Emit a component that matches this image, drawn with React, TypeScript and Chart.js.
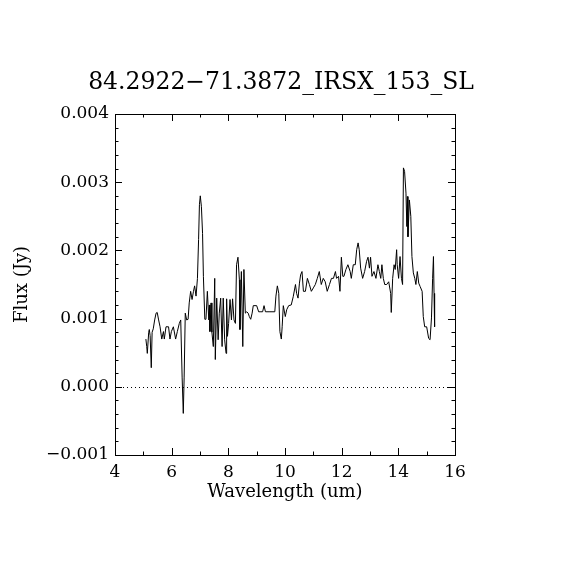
import React, { useEffect, useRef } from "react";
import { Chart, registerables } from "chart.js";

Chart.register(...registerables);

const TITLE = "84.2922\u221271.3872_IRSX_153_SL";
const X_LABEL = "Wavelength (um)";
const Y_LABEL = "Flux (Jy)";

const X_TICKS = [4, 6, 8, 10, 12, 14, 16];
const X_MINOR_TICKS = [5, 7, 9, 11, 13, 15];
const Y_TICKS = [-0.001, 0, 0.001, 0.002, 0.003, 0.004];
const Y_MINOR_TICKS = [
  -0.0008, -0.0006, -0.0004, -0.0002, 0.0002, 0.0004, 0.0006, 0.0008,
  0.0012, 0.0014, 0.0016, 0.0018, 0.0022, 0.0024, 0.0026, 0.0028,
  0.0032, 0.0034, 0.0036, 0.0038,
];

const WAVELENGTH = [
  5.09, 5.12, 5.14, 5.19, 5.21, 5.24, 5.28, 5.31, 5.35, 5.40, 5.45, 5.49,
  5.54, 5.59, 5.65, 5.71, 5.74, 5.80, 5.89, 5.94, 5.99, 6.06, 6.14, 6.20,
  6.27, 6.32, 6.37, 6.41, 6.44, 6.48, 6.53, 6.58, 6.62, 6.67, 6.72, 6.77,
  6.81, 6.86, 6.91, 6.95, 6.98, 7.01, 7.05, 7.09, 7.12, 7.17, 7.21, 7.26,
  7.31, 7.33, 7.35, 7.39, 7.42, 7.47, 7.52, 7.54, 7.59, 7.64, 7.68, 7.73,
  7.78, 7.82, 7.87, 7.92, 7.94, 7.97, 8.01, 8.06, 8.11, 8.15, 8.20, 8.25,
  8.29, 8.34, 8.39, 8.41, 8.46, 8.51, 8.55, 8.60, 8.65, 8.70, 8.74, 8.79,
  8.84, 8.88, 9.00, 9.07, 9.12, 9.21, 9.26, 9.31, 9.47, 9.64, 9.68, 9.73,
  9.78, 9.82, 9.87, 9.90, 9.94, 10.01, 10.06, 10.13,
  10.22, 10.29, 10.37, 10.41, 10.46, 10.51, 10.55, 10.60, 10.65, 10.72,
  10.79, 10.86, 10.93, 11.00, 11.07, 11.14, 11.21, 11.28, 11.35, 11.42,
  11.49, 11.57, 11.64, 11.71, 11.78, 11.82, 11.89, 11.94, 11.99, 12.04,
  12.08, 12.15, 12.22, 12.30, 12.34, 12.41, 12.48, 12.53, 12.58, 12.62,
  12.67, 12.74, 12.81, 12.88, 12.93, 12.98, 13.02, 13.07, 13.14, 13.21,
  13.28, 13.33, 13.38, 13.42, 13.47, 13.52, 13.59, 13.66, 13.73, 13.75,
  13.80, 13.85, 13.89, 13.94, 13.96, 14.01, 14.06, 14.11, 14.15, 14.18,
  14.22, 14.27, 14.30, 14.32, 14.34, 14.39, 14.44, 14.48, 14.53, 14.58,
  14.62, 14.67, 14.72, 14.77, 14.84, 14.88, 14.93, 15.00, 15.07, 15.12,
  15.17, 15.21, 15.24, 15.26, 15.28,
];

const FLUX = [
  0.00070, 0.00059, 0.00049, 0.00080, 0.00084, 0.00075, 0.00028, 0.00080,
  0.00085, 0.00098, 0.00108, 0.00109, 0.00098, 0.00088, 0.00070, 0.00081,
  0.00070, 0.00088, 0.00088, 0.00070, 0.00081, 0.00088, 0.00070, 0.00081,
  0.00093, 0.00098, 0.00013, -0.00039, 0.00013, 0.00108, 0.00098, 0.00099,
  0.00123, 0.00140, 0.00128, 0.00140, 0.00148, 0.00133, 0.00159, 0.00216,
  0.00267, 0.00280, 0.00264, 0.00225, 0.00162, 0.00099, 0.00099, 0.00140,
  0.00098, 0.00120, 0.00081, 0.00123, 0.00080, 0.00059, 0.00159, 0.00040,
  0.00130, 0.00069, 0.00108, 0.00130, 0.00059, 0.00130, 0.00069, 0.00049,
  0.00129, 0.00074, 0.00093, 0.00128, 0.00098, 0.00129, 0.00098, 0.00093,
  0.00179, 0.00190, 0.00157, 0.00084, 0.00169, 0.00059, 0.00172, 0.00108,
  0.00110, 0.00108, 0.00103, 0.00099, 0.00108, 0.00119, 0.00119, 0.00110,
  0.00110, 0.00110, 0.00119, 0.00110, 0.00110, 0.00110, 0.00133, 0.00148,
  0.00137, 0.00081, 0.00070, 0.00088, 0.00119, 0.00103, 0.00113, 0.00119,
  0.00120, 0.00132, 0.00150, 0.00137, 0.00130, 0.00152, 0.00164, 0.00169,
  0.00140, 0.00140, 0.00159, 0.00150, 0.00140, 0.00145, 0.00150, 0.00159,
  0.00169, 0.00150, 0.00159, 0.00154, 0.00140, 0.00150, 0.00159, 0.00159,
  0.00169, 0.00159, 0.00162, 0.00140, 0.00190, 0.00162, 0.00162, 0.00172,
  0.00179, 0.00169, 0.00159, 0.00179, 0.00179, 0.00201, 0.00211, 0.00201,
  0.00174, 0.00159, 0.00169, 0.00184, 0.00190, 0.00174, 0.00190, 0.00162,
  0.00169, 0.00159, 0.00179, 0.00169, 0.00159, 0.00179, 0.00159, 0.00150,
  0.00150, 0.00154, 0.00137, 0.00109, 0.00159, 0.00179, 0.00172, 0.00201,
  0.00179, 0.00159, 0.00191, 0.00159, 0.00150, 0.00321, 0.00316, 0.00284,
  0.00235, 0.00279, 0.00220, 0.00274, 0.00250, 0.00191, 0.00167, 0.00159,
  0.00150, 0.00169, 0.00152, 0.00147, 0.00140, 0.00103, 0.00088, 0.00088,
  0.00071, 0.00069, 0.00101, 0.00159, 0.00191, 0.00137, 0.00088,
];

const FONT = "'DejaVu Serif', 'Liberation Serif', serif";

const idlFrame = {
  id: "idlFrame",
  beforeDatasetsDraw(chart: any) {
    const { ctx, chartArea, scales } = chart;
    const y0 = Math.round(scales.y.getPixelForValue(0)) + 0.5;
    ctx.save();
    ctx.strokeStyle = "#000";
    ctx.lineWidth = 1;
    ctx.setLineDash([1, 3]);
    ctx.beginPath();
    ctx.moveTo(chartArea.left, y0);
    ctx.lineTo(chartArea.right, y0);
    ctx.stroke();
    ctx.restore();
  },
  afterDraw(chart: any) {
    const { ctx, chartArea, scales } = chart;
    const { left, right, top, bottom } = chartArea;
    const xs = scales.x;
    const ys = scales.y;
    ctx.save();
    ctx.strokeStyle = "#000";
    ctx.lineWidth = 1;
    ctx.setLineDash([]);
    ctx.strokeRect(left + 0.5, top + 0.5, right - left, bottom - top);
    const major = 7;
    const minor = 3.5;
    ctx.beginPath();
    const xTick = (v: number, len: number) => {
      const px = Math.round(xs.getPixelForValue(v)) + 0.5;
      ctx.moveTo(px, bottom);
      ctx.lineTo(px, bottom - len);
      ctx.moveTo(px, top);
      ctx.lineTo(px, top + len);
    };
    const yTick = (v: number, len: number) => {
      const py = Math.round(ys.getPixelForValue(v)) + 0.5;
      ctx.moveTo(left, py);
      ctx.lineTo(left + len, py);
      ctx.moveTo(right, py);
      ctx.lineTo(right - len, py);
    };
    X_TICKS.forEach((v) => xTick(v, major));
    X_MINOR_TICKS.forEach((v) => xTick(v, minor));
    Y_TICKS.forEach((v) => yTick(v, major));
    Y_MINOR_TICKS.forEach((v) => yTick(v, minor));
    ctx.stroke();

    ctx.fillStyle = "#000";
    ctx.textAlign = "center";
    ctx.textBaseline = "middle";
    ctx.font = `23.5px ${FONT}`;
    ctx.fillText(TITLE, (left + right) / 2 - 4, 83);
    ctx.font = `18px ${FONT}`;
    ctx.fillText(X_LABEL, (left + right) / 2, 492);
    ctx.save();
    ctx.translate(22, (top + bottom) / 2);
    ctx.rotate(-Math.PI / 2);
    ctx.fillText(Y_LABEL, 0, 0);
    ctx.restore();
    ctx.restore();
  },
};

export default function App() {
  const ref = useRef<HTMLCanvasElement | null>(null);
  useEffect(() => {
    if (!ref.current) return;
    const points = WAVELENGTH.map((w, i) => ({ x: w, y: FLUX[i] }));
    const chart = new Chart(ref.current, {
      type: "line",
      data: {
        datasets: [
          {
            data: points,
            borderColor: "#000",
            borderWidth: 1,
            pointRadius: 0,
            tension: 0,
            fill: false,
          },
        ],
      },
      options: {
        animation: false,
        responsive: false,
        devicePixelRatio: 1,
        layout: { padding: { left: 0, top: 114, right: 115, bottom: 0 } },
        plugins: {
          legend: { display: false },
          title: { display: false },
          tooltip: { enabled: false },
        },
        scales: {
          x: {
            type: "linear",
            min: 4,
            max: 16,
            grid: { display: false, drawTicks: false },
            border: { display: false },
            afterFit: (s: any) => {
              s.height = 115;
            },
            afterBuildTicks: (s: any) => {
              s.ticks = X_TICKS.map((v) => ({ value: v }));
            },
            ticks: {
              color: "#000",
              font: { family: FONT, size: 17 },
              padding: 7,
              maxRotation: 0,
              callback: (v: any) => String(v),
            },
          },
          y: {
            type: "linear",
            min: -0.001,
            max: 0.004,
            grid: { display: false, drawTicks: false },
            border: { display: false },
            afterFit: (s: any) => {
              s.width = 115;
            },
            afterBuildTicks: (s: any) => {
              s.ticks = Y_TICKS.map((v) => ({ value: v }));
            },
            ticks: {
              color: "#000",
              font: { family: FONT, size: 17 },
              padding: 6,
              callback: (v: any) => Number(v).toFixed(3).replace("-", "\u2212"),
            },
          },
        },
      },
      plugins: [idlFrame],
    });
    return () => chart.destroy();
  }, []);
  return (
    <div style={{ position: "absolute", left: 0, top: 0, width: 570, height: 570, background: "#fff" }}>
      <canvas ref={ref} width={570} height={570} style={{ width: 570, height: 570, display: "block" }} />
    </div>
  );
}
